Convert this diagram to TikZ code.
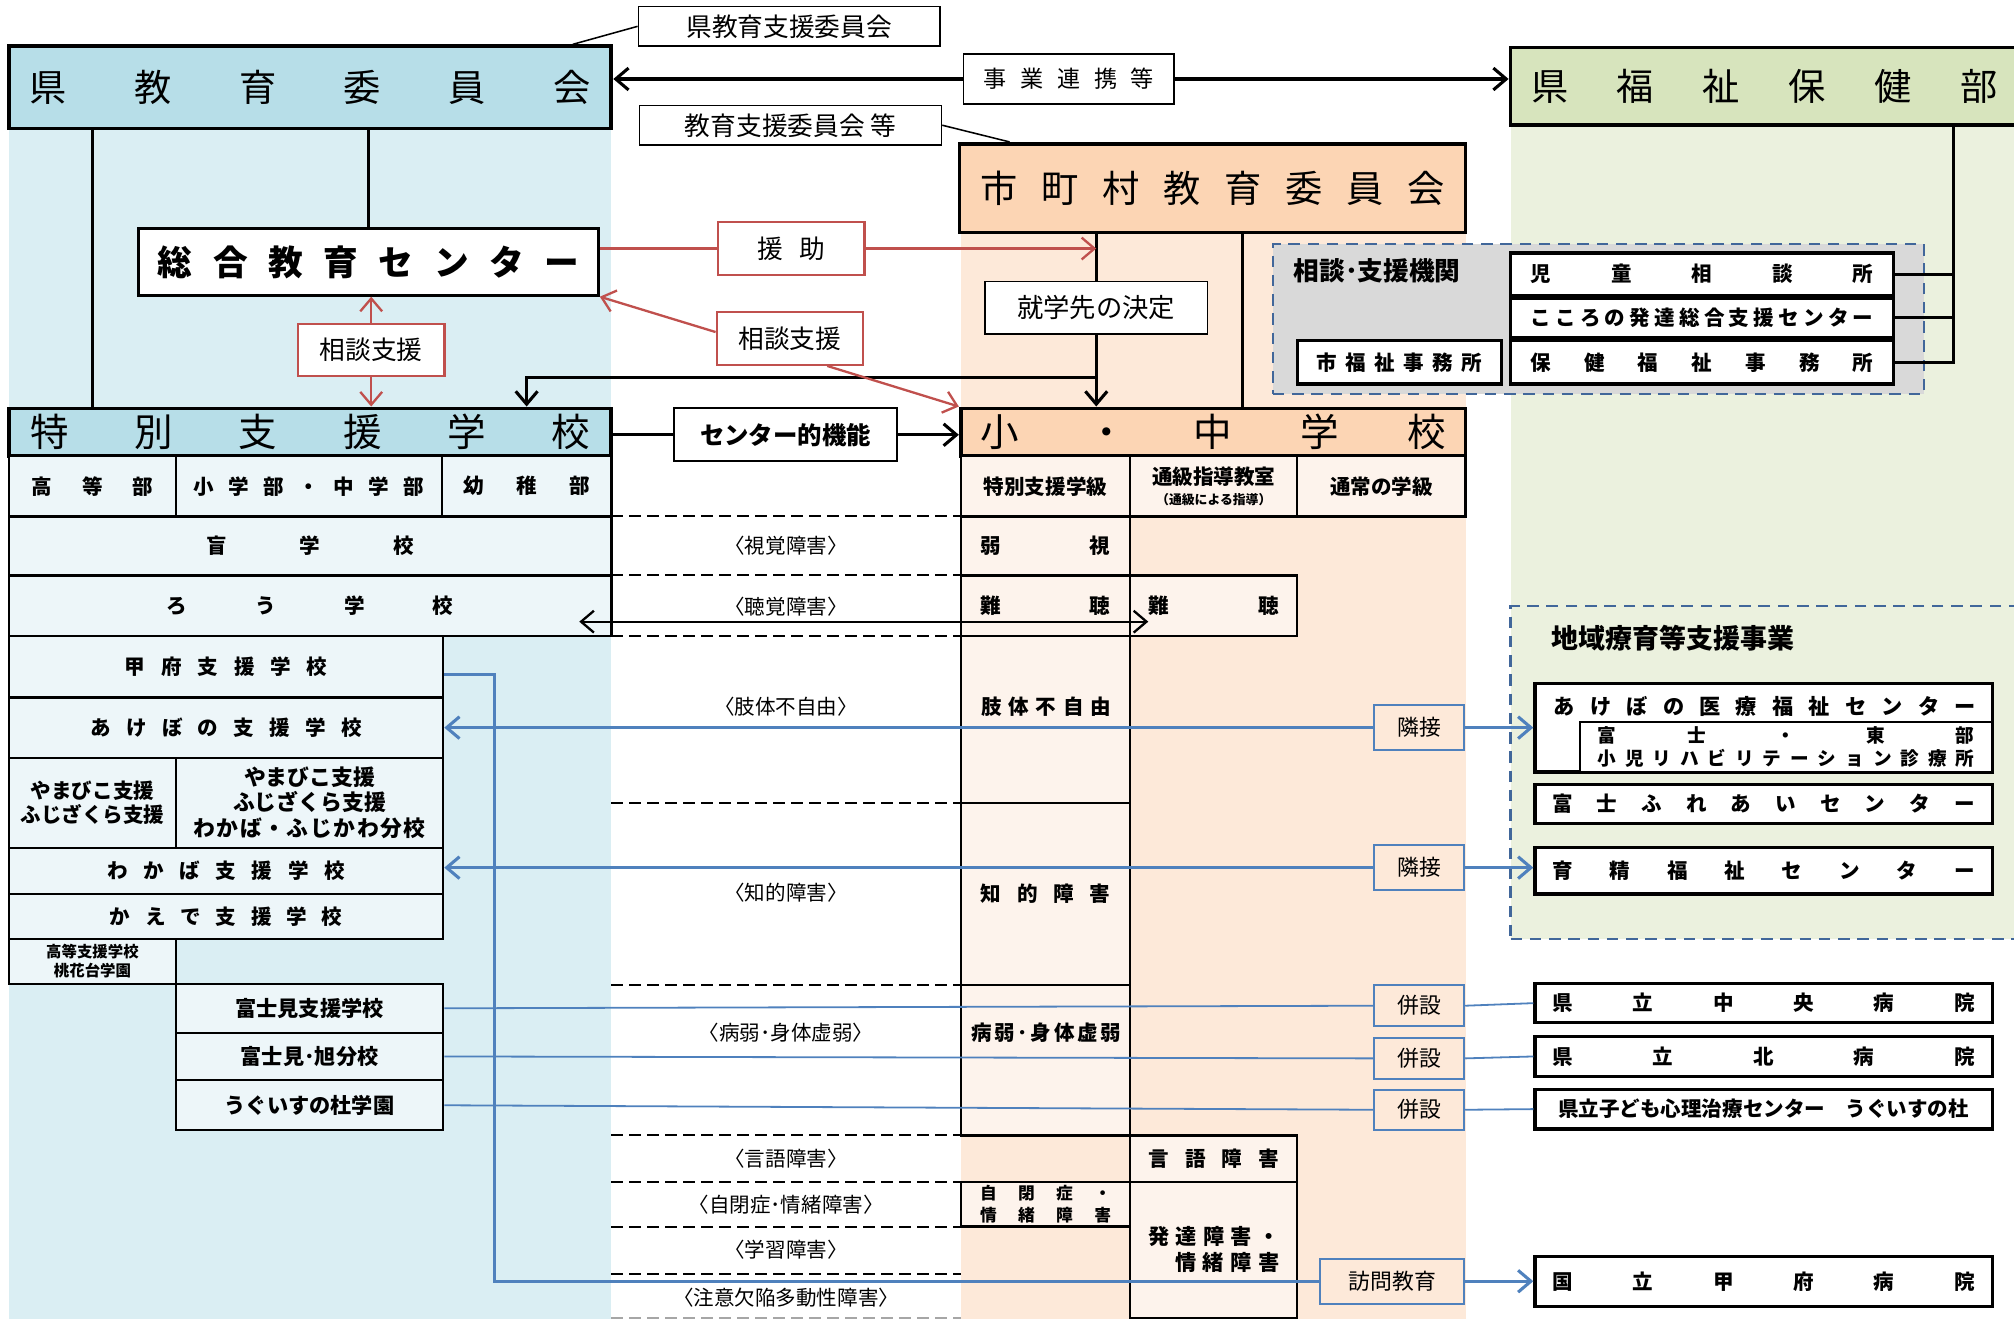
\documentclass[tikz,border=0pt]{standalone}
\usepackage{fontspec}
\setmainfont{Noto Sans CJK JP}
\usepackage{tikz}
\usetikzlibrary{arrows.meta}
\definecolor{kyoblue}{HTML}{B7DEE8}
\definecolor{kyobg}{HTML}{DAEEF3}
\definecolor{kyocell}{HTML}{EDF6F9}
\definecolor{fukugreen}{HTML}{D7E4BD}
\definecolor{fukubg}{HTML}{EBF1DE}
\definecolor{shipeach}{HTML}{FCD5B4}
\definecolor{shibg}{HTML}{FDE9D9}
\definecolor{shicell}{HTML}{FDF3EC}
\definecolor{kikangray}{HTML}{D9D9D9}
\definecolor{dashblue}{HTML}{41679A}
\definecolor{lineblue}{HTML}{4F81BD}
\definecolor{supred}{HTML}{C0504D}
% evenly spread characters over a given width
\newcommand{\spread}[2]{\makebox[#1]{\spreadnext#2\relax}}
\def\spreadnext#1#2{#1\ifx#2\relax\else\hfill\expandafter\spreadnext\expandafter#2\fi}

\begin{document}
\begin{tikzpicture}[x=1pt, y=-1pt,
  hdr/.style={draw, line width=3pt, inner sep=0pt, font=\fontsize{29}{32}\selectfont},
  tag/.style={draw, line width=1.2pt, fill=white, inner sep=0pt, font=\fontsize{20}{22}\selectfont},
  redtag/.style={tag, draw=supred, line width=1.8pt, minimum width=114, minimum height=41},
  btag/.style={draw=lineblue, line width=1.5pt, inner sep=0pt, minimum width=70, font=\fontsize{17}{20}\selectfont},
  lcell/.style={draw, line width=1.8pt, fill=kyocell, inner sep=0pt, font=\bfseries\fontsize{16}{19}\selectfont},
  ccell/.style={draw, line width=1.8pt, fill=shicell, inner sep=0pt, font=\bfseries\fontsize{16}{19}\selectfont},
  kbox/.style={draw, line width=2.5pt, fill=white, inner sep=0pt, minimum width=298, font=\bfseries\fontsize{16}{18}\selectfont},
  rbox/.style={draw, line width=2.5pt, fill=white, inner sep=0pt, minimum width=356, font=\bfseries\fontsize{16}{19}\selectfont},
  dis/.style={font=\fontsize{16}{18}\selectfont},
  blk/.style={line width=2.4pt},
  redln/.style={draw=supred, line width=1.8pt},
  blueln/.style={draw=lineblue, line width=2.4pt},
  bluethin/.style={draw=lineblue, line width=1.4pt},
  tipk/.style={-{Straight Barb[length=10pt,width=17pt]}},
  sep/.style={line width=1.5pt, dash pattern=on 9pt off 5pt},
  grp/.style={draw=dashblue, line width=1.6pt, dash pattern=on 9pt off 6pt, inner sep=0pt}]
\useasboundingbox (0,0) rectangle (1568,1027);
% Column backgrounds
\fill[kyobg] (7,100) rectangle (476,1027);
\fill[shibg] (748,181) rectangle (1141,1027);
\fill[fukubg] (1176,97) rectangle (1568,731);

% Head offices
\node[hdr, fill=kyoblue, minimum width=469, minimum height=64] (kenkyoi) at (241.5,68) {\spread{437pt}{県教育委員会}};
\node[hdr, fill=fukugreen, minimum width=395, minimum height=60] (kenfuku) at (1373.5,67) {\spread{363pt}{県福祉保健部}};
\node[hdr, fill=shipeach, minimum width=394, minimum height=69] (shicho) at (944,146.5) {\spread{361pt}{市町村教育委員会}};
\node[hdr, fill=white, line width=2pt, minimum width=358, minimum height=52, font=\bfseries\fontsize{27}{30}\selectfont] (sogo) at (287,204) {\spread{328pt}{総合教育センター}};
\node[hdr, fill=kyoblue, minimum width=469, minimum height=37, font=\fontsize{30}{32}\selectfont] (tokushi) at (241.5,336.5) {\spread{436pt}{特別支援学校}};
\node[hdr, fill=shipeach, minimum width=393, minimum height=37, font=\fontsize{30}{32}\selectfont] (shochu) at (944.5,336.5) {\spread{362pt}{小・中学校}};

% Small tags
\node[tag, minimum width=235, minimum height=31] (kenshien) at (614.5,20.5) {県教育支援委員会};
\node[tag, minimum width=235, minimum height=31] (shienkai) at (615.5,97.5) {教育支援委員会 等};
\node[tag, minimum width=164, minimum height=39, font=\fontsize{18}{20}\selectfont] (renkei) at (832,61.5) {\spread{133pt}{事業連携等}};
\node[redtag] (enjo) at (616,193.5) {援\hspace{13pt}助};
\node[redtag] (sodanL) at (289,272.5) {相談支援};
\node[redtag] (sodanR) at (615,263.5) {相談支援};
\node[tag, minimum width=173, minimum height=41, font=\fontsize{20.5}{22}\selectfont] (shugaku) at (853.5,239.5) {就学先の決定};
\node[tag, line width=1.6pt, minimum width=173, minimum height=41, font=\bfseries\fontsize{19}{22}\selectfont] (senta) at (611.5,338.5) {センター的機能};

% Consultation bodies
\node[grp, fill=kikangray, minimum width=507, minimum height=117] (kikan) at (1244.5,248.5) {};
\node[anchor=west, inner sep=0pt, font=\bfseries\fontsize{20}{22}\selectfont] (kikantitle) at (1007,211) {相談･支援機関};
\node[kbox, minimum height=33] (jido) at (1325,213.5) {\spread{267pt}{児童相談所}};
\node[kbox, minimum height=31] (kokoro) at (1325,247.5) {\spread{267pt}{こころの発達総合支援センター}};
\node[kbox, minimum height=34] (hoken) at (1325,282) {\spread{267pt}{保健福祉事務所}};
\node[kbox, minimum width=159, minimum height=34] (shifuku) at (1089.5,282) {\spread{129pt}{市福祉事務所}};

% Special support schools
\node[lcell, minimum width=130, minimum height=47] (kotobu) at (72,378.5) {\spread{95pt}{高等部}};
\node[lcell, minimum width=207, minimum height=47] (shochubu) at (240.5,378.5) {\spread{179pt}{小学部・中学部}};
\node[lcell, minimum width=132, minimum height=47] (yochibu) at (410,378.5) {\spread{99pt}{幼稚部}};
\node[lcell, minimum width=469, minimum height=46] (mou) at (241.5,425) {\spread{161pt}{盲学校}};
\node[lcell, minimum width=469, minimum height=47] (rou) at (241.5,471.5) {\spread{223pt}{ろう学校}};
\node[lcell, minimum width=338, minimum height=48] (kofu) at (176,519) {\spread{158pt}{甲府支援学校}};
\node[lcell, minimum width=338, minimum height=47] (akebono) at (176,566.5) {\spread{211pt}{あけぼの支援学校}};
\node[lcell, minimum width=130, minimum height=70, align=center] (yamaL) at (72,625) {やまびこ支援\\ふじざくら支援};
\node[lcell, minimum width=208, minimum height=70, align=center, font=\bfseries\fontsize{17}{19.5}\selectfont] (yamaR) at (241,625) {やまびこ支援\\ふじざくら支援\\\spread{181pt}{わかば・ふじかわ分校}};
\node[lcell, minimum width=338, minimum height=36] (wakaba) at (176,678) {\spread{185pt}{わかば支援学校}};
\node[lcell, minimum width=338, minimum height=35] (kaede) at (176,713.5) {\spread{181pt}{かえで支援学校}};
\node[lcell, minimum width=130, minimum height=35, align=center, font=\bfseries\fontsize{12}{15}\selectfont] (tokadai) at (72,748.5) {高等支援学校\\桃花台学園};
\node[lcell, minimum width=208, minimum height=38, font=\bfseries\fontsize{16.5}{19}\selectfont] (fujimi) at (241,785) {富士見支援学校};
\node[lcell, minimum width=208, minimum height=37, font=\bfseries\fontsize{16.5}{19}\selectfont] (asahi) at (241,822.5) {富士見･旭分校};
\node[lcell, minimum width=208, minimum height=39, font=\bfseries\fontsize{16.5}{19}\selectfont] (uguisu) at (241,860.5) {うぐいすの杜学園};

% Elementary and junior high schools
\node[ccell, minimum width=132, minimum height=47] (tokkyu) at (814,378.5) {特別支援学級};
\node[ccell, minimum width=130, minimum height=47, align=center] (tsukyu) at (945,378.5) {通級指導教室\\[-3pt]{\fontsize{10}{12}\selectfont （通級による指導）}};
\node[ccell, minimum width=131, minimum height=47] (tsujo) at (1075.5,378.5) {通常の学級};
\node[ccell, minimum width=132, minimum height=46] (jakushi) at (814,425) {\spread{101pt}{弱視}};
\node[ccell, minimum width=132, minimum height=47] (nanA) at (814,471.5) {\spread{101pt}{難聴}};
\node[ccell, minimum width=130, minimum height=47] (nanB) at (945,471.5) {\spread{102pt}{難聴}};
\node[ccell, minimum width=132, minimum height=130] (shitai) at (814,560) {};
\node[inner sep=0pt, font=\bfseries\fontsize{16}{19}\selectfont] (shitaitxt) at (814.5,550) {\spread{101pt}{肢体不自由}};
\node[ccell, minimum width=132, minimum height=142] (chiteki) at (814,696) {\spread{101pt}{知的障害}};
\node[ccell, minimum width=132, minimum height=117] (byojaku) at (814,825.5) {};
\node[inner sep=0pt, font=\bfseries\fontsize{16}{19}\selectfont] (byojakutxt) at (814.5,804) {\spread{117pt}{病弱･身体虚弱}};
\node[ccell, minimum width=130, minimum height=36] (gengo) at (945,902) {\spread{102pt}{言語障害}};
\node[ccell, minimum width=132, minimum height=35, align=center, font=\bfseries\fontsize{13}{17}\selectfont] (jihei) at (814,937.5) {\spread{102pt}{自閉症・}\\\spread{102pt}{情緒障害}};
\node[ccell, minimum width=130, minimum height=106, align=center, font=\bfseries\fontsize{16.5}{20.5}\selectfont] (hattatsu) at (945,973) {\spread{102pt}{発達障害・}\\\makebox[102pt][r]{\spread{81pt}{情緒障害}}};

% Regional support and hospitals
\node[grp, fill=fukubg, minimum width=399, minimum height=259] (chiiki) at (1375.5,601.5) {};
\node[anchor=west, inner sep=0pt, font=\bfseries\fontsize{21}{23}\selectfont] (chiikititle) at (1208,497) {地域療育等支援事業};
\node[rbox, minimum height=69] (akeC) at (1373,566.5) {};
\node[inner sep=0pt, font=\bfseries\fontsize{16.5}{19}\selectfont] (akeCtxt) at (1374,550) {\spread{329pt}{あけぼの医療福祉センター}};
\node[rbox, line width=2pt, minimum width=321, minimum height=39, align=center, font=\bfseries\fontsize{14.5}{18}\selectfont] (riha) at (1390.5,581.5) {\spread{293pt}{富士・東部}\\\spread{293pt}{小児リハビリテーション診療所}};
\node[rbox, minimum height=30] (fureai) at (1373,626) {\spread{329pt}{富士ふれあいセンター}};
\node[rbox, minimum height=36] (ikusei) at (1373,678) {\spread{329pt}{育精福祉センター}};
\node[rbox, minimum height=30] (chuo) at (1373,781) {\spread{329pt}{県立中央病院}};
\node[rbox, minimum height=31] (kita) at (1373,822.5) {\spread{329pt}{県立北病院}};
\node[rbox, minimum height=31] (kodomo) at (1373,863.5) {県立子ども心理治療センター　うぐいすの杜};
\node[rbox, minimum height=39] (kokuritsu) at (1373,997.5) {\spread{329pt}{国立甲府病院}};

% Blue tags
\node[btag, minimum height=35] (rin1) at (1105,566.5) {隣接};
\node[btag, minimum height=35] (rin2) at (1105,675.5) {隣接};
\node[btag, minimum height=32] (hei1) at (1105,783) {併設};
\node[btag, minimum height=32] (hei2) at (1105,824) {併設};
\node[btag, minimum height=31] (hei3) at (1105,864) {併設};
\node[btag, minimum width=112, minimum height=35] (homon) at (1084,997.5) {訪問教育};

% Black links
\draw[blk, tipk] (renkei.west) -- (renkei.west -| kenkyoi.east);
\draw[blk, tipk] (renkei.east) -- (renkei.east -| kenfuku.west);
\draw[line width=1.2pt] (kenshien.west) -- ([xshift=204.5pt]kenkyoi.north);
\draw[line width=1.2pt] (shienkai.east) -- ([xshift=-158pt]shicho.north);
\draw[blk] (kenkyoi.south -| kotobu) -- (tokushi.north -| kotobu);
\draw[blk] (kenkyoi.south -| sogo) -- (sogo.north);
\draw[blk] (shicho.south -| shugaku) -- (shugaku.north);
\draw[blk, tipk] (shugaku.south) -- (shochu.north -| shugaku.south);
\coordinate (junc) at (853.5,294);
\coordinate (drop) at (410,294);
\draw[blk, tipk] (junc) -- (drop) -- (drop |- tokushi.north);
\draw[blk] ([xshift=23pt]shicho.south) -- ([xshift=22.5pt]shochu.north);
\draw[blk] (tokushi.east |- senta.west) -- (senta.west);
\draw[blk, tipk] (senta.east) -- (senta.east -| shochu.west);
\coordinate (fukuline) at (1521,97);
\draw[blk] (fukuline) |- (hoken.east);
\draw[blk] (kokoro.east) -- (kokoro.east -| fukuline);
\draw[blk] (jido.east) -- (jido.east -| fukuline);
\coordinate (rouin) at (451,484);
\coordinate (nanin) at (894,484);
\draw[line width=1.8pt, {Straight Barb[length=10pt,width=17pt]}-{Straight Barb[length=10pt,width=17pt]}] (rouin) -- (nanin);

% Red links
\draw[redln, tipk] (sodanL.north) -- (sogo.south -| sodanL.north);
\draw[redln, tipk] (sodanL.south) -- (tokushi.north -| sodanL.south);
\draw[redln] (sogo.east |- enjo.west) -- (enjo.west);
\draw[redln, tipk] (enjo.east) -- (enjo.east -| shugaku.north);
\draw[redln, tipk] ([yshift=5pt]sodanR.west) -- (sogo.south east);
\draw[redln, tipk] ([xshift=29pt]sodanR.south) -- (shochu.north west);

% Blue links
\draw[blueln, tipk] (rin1.west) -- (rin1.west -| akebono.east);
\draw[blueln, tipk] (rin1.east) -- (rin1.east -| akeC.west);
\draw[blueln, tipk] (rin2.west) -- (rin2.west -| wakaba.east);
\draw[blueln, tipk] (rin2.east) -- (rin2.east -| ikusei.west);
\draw[bluethin] (fujimi.east) -- (hei1.west) (hei1.east) -- (chuo.west);
\draw[bluethin] (asahi.east) -- (hei2.west) (hei2.east) -- (kita.west);
\draw[bluethin] (uguisu.east) -- (hei3.west) (hei3.east) -- (kodomo.west);
\coordinate (homonbend) at (385,997.5);
\draw[blueln] ([yshift=-6pt]kofu.east) -| (homonbend) -- (homon.west);
\draw[blueln, tipk] (homon.east) -- (homon.east -| kokuritsu.west);

% Disability rows
\foreach \y in {402,448,495,625,767,884,920,955,992}
  \draw[sep] (476,\y) -- (748,\y);
\draw[sep, black!35] (476,1026) -- (748,1026);
\foreach \y/\t in {425/〈視覚障害〉, 472/〈聴覚障害〉, 550/〈肢体不自由〉, 695/〈知的障害〉, 804/〈病弱･身体虚弱〉, 902/〈言語障害〉, 938/〈自閉症･情緒障害〉, 973/〈学習障害〉, 1010/〈注意欠陥多動性障害〉}
  \node[dis] (dis\y) at (612,\y) {\t};
\end{tikzpicture}
\end{document}
